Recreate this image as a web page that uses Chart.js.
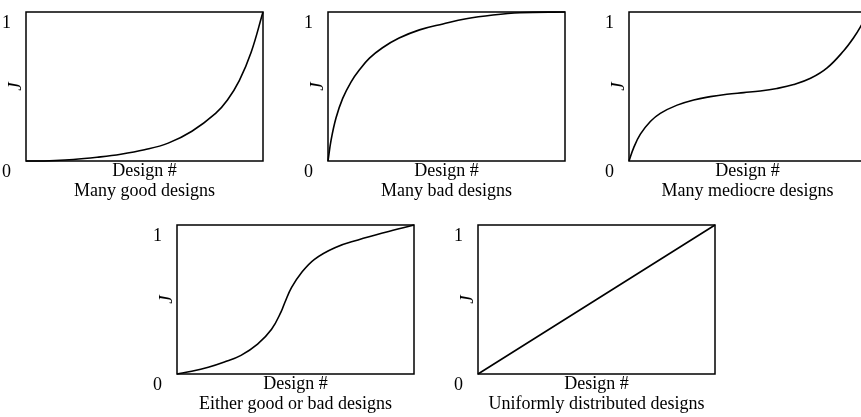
<!DOCTYPE html>
<html>
<head>
<meta charset="utf-8">
<script src="https://cdn.jsdelivr.net/npm/chart.js@4.4.0/dist/chart.umd.min.js"></script>
<style>
  html, body { margin: 0; padding: 0; background: #fff; overflow: hidden; width: 861px; height: 417px; }
  .panel { position: absolute; width: 267px; height: 201px; }
</style>
</head>
<body>
<div class="panel" style="left:0px;top:0px"><canvas id="c0" width="267" height="201"></canvas></div>
<div class="panel" style="left:302px;top:0px"><canvas id="c1" width="267" height="201"></canvas></div>
<div class="panel" style="left:603px;top:0px"><canvas id="c2" width="267" height="201"></canvas></div>
<div class="panel" style="left:151px;top:213px"><canvas id="c3" width="267" height="201"></canvas></div>
<div class="panel" style="left:452px;top:213px"><canvas id="c4" width="267" height="201"></canvas></div>
<script>
const captions = [
    'Many good designs',
    'Many bad designs',
    'Many mediocre designs',
    'Either good or bad designs',
    'Uniformly distributed designs'
];
const xLabel = 'Design #';
const yLabel = 'J';
const yTicks = [0, 1];

// x = design rank (0..1), y = normalised cost J
const goodX = [0, 0.05, 0.1, 0.2, 0.3, 0.4, 0.5, 0.6, 0.7, 0.8, 0.85, 0.9, 0.95, 1];
const goodY = [0, 0, 0.002, 0.01, 0.025, 0.045, 0.075, 0.12, 0.2, 0.32, 0.41, 0.54, 0.73, 1];

const badX = [0, 0.013, 0.034, 0.062, 0.097, 0.132, 0.175, 0.23, 0.3, 0.386, 0.485, 0.583, 0.696, 0.81, 1];
const badY = [0, 0.14, 0.29, 0.42, 0.53, 0.61, 0.69, 0.76, 0.825, 0.88, 0.92, 0.955, 0.98, 0.995, 1];

const mediocreX = [0, 0.02, 0.048, 0.09, 0.132, 0.203, 0.273, 0.343, 0.413, 0.484, 0.554, 0.624, 0.695, 0.766, 0.836, 0.906, 0.949, 0.98, 1];
const mediocreY = [0, 0.09, 0.18, 0.265, 0.32, 0.375, 0.41, 0.432, 0.448, 0.459, 0.47, 0.487, 0.513, 0.555, 0.625, 0.74, 0.83, 0.91, 0.97];

const eitherX = [0, 0.062, 0.132, 0.2, 0.27, 0.34, 0.399, 0.44, 0.455, 0.483, 0.525, 0.58, 0.666, 0.764, 0.876, 1];
const eitherY = [0, 0.018, 0.045, 0.08, 0.125, 0.2, 0.3, 0.42, 0.48, 0.58, 0.68, 0.77, 0.848, 0.9, 0.95, 1];

const uniformX = [0, 1];
const uniformY = [0, 1];

const series = [
    [goodX, goodY],
    [badX, badY],
    [mediocreX, mediocreY],
    [eitherX, eitherY],
    [uniformX, uniformY]
];

Chart.defaults.font.family = "'Liberation Serif', 'Times New Roman', serif";
Chart.defaults.font.size = 18;
Chart.defaults.color = '#000';

// box around the plot area
const frame = {
    id: 'frame',
    afterDraw(chart) {
        const { ctx, chartArea: a } = chart;
        ctx.save();
        ctx.strokeStyle = '#000';
        ctx.lineWidth = 1.5;
        ctx.strokeRect(a.left, a.top, a.right - a.left, a.bottom - a.top);
        ctx.restore();
    }
};

function makeChart(id, xs, ys, caption) {
    const points = xs.map((x, i) => ({ x, y: ys[i] }));
    return new Chart(document.getElementById(id), {
        type: 'scatter',
        data: {
            datasets: [{
                data: points,
                showLine: true,
                borderColor: '#000',
                borderWidth: 1.6,
                pointRadius: 0,
                tension: 0.4,
                clip: 3
            }]
        },
        options: {
            responsive: false,
            animation: false,
            events: [],
            layout: { padding: { top: 12, right: 4, left: 0, bottom: 0 } },
            plugins: { legend: { display: false }, tooltip: { enabled: false } },
            scales: {
                x: {
                    type: 'linear', min: 0, max: 1,
                    grid: { display: false },
                    border: { display: false },
                    ticks: { display: false },
                    title: {
                        display: true,
                        text: [xLabel, caption],
                        font: { size: 18, lineHeight: 20 / 18 },
                        padding: 0
                    },
                    afterFit: s => {
                        s.height = 40;
                        s.paddingLeft = 0;
                        s.paddingRight = 0;
                    }
                },
                y: {
                    type: 'linear', min: 0, max: 1,
                    grid: { display: false },
                    border: { display: false },
                    afterBuildTicks: s => { s.ticks = yTicks.map(v => ({ value: v })); },
                    ticks: { padding: 7, labelOffset: 11, font: { size: 18 } },
                    title: {
                        display: true,
                        text: yLabel,
                        font: { size: 19, style: 'italic', lineHeight: 20 / 19 },
                        padding: { top: 6, bottom: 0 }
                    },
                    afterFit: s => {
                        s.width = 26;
                        s.paddingTop = 0;
                        s.paddingBottom = 0;
                    }
                }
            }
        },
        plugins: [frame]
    });
}

series.forEach(([xs, ys], i) => makeChart('c' + i, xs, ys, captions[i]));
</script>
</body>
</html>
